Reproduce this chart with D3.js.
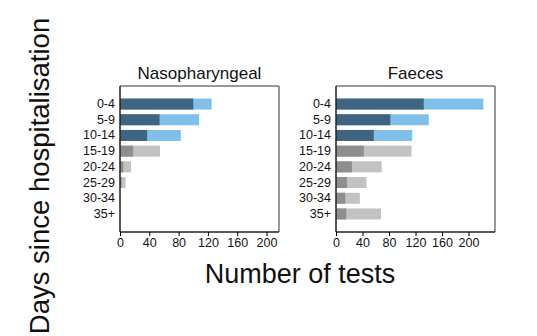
<!DOCTYPE html>
<html>
<head>
<meta charset="utf-8">
<script src="https://cdn.jsdelivr.net/npm/d3@7"></script>
<style>
  body { margin: 0; background: #fff; }
  svg { display: block; font-family: "Liberation Sans", Arial, sans-serif; }
</style>
</head>
<body>
<div id="chart"></div>
<script>
// Days since hospitalisation
const categories = ['0-4', '5-9', '10-14', '15-19', '20-24', '25-29', '30-34', '35+'];
const blueRows = ['0-4', '5-9', '10-14'];
const xTicks = [0, 40, 80, 120, 160, 200];

// Nasopharyngeal: positive tests and total tests
const nasoPositive = [100, 54, 37, 18, 4.5, 2, 0, 0];
const nasoTotal = [125, 108, 83, 54.5, 15, 7.5, 0, 0];

// Faeces: positive tests and total tests
const faecesPositive = [132.5, 82, 57, 42, 24, 16.5, 14, 15.5];
const faecesTotal = [222.5, 140, 115, 114, 69, 46, 36, 68];

const width = 537, height = 336;
const svg = d3.select('#chart').append('svg')
  .attr('width', width)
  .attr('height', height);

const colors = {
  darkBlue: '#3e6482', lightBlue: '#80bfea',
  darkGray: '#8e8e8e', lightGray: '#c2c2c2'
};

function drawPanel(left, title, positive, total, xmax) {
  const top = 86, bottom = 232, w = 159;

  const x = d3.scaleLinear().domain([0, xmax]).range([left, left + w]);
  const y = d3.scaleBand().domain(categories).range([top, bottom])
    .paddingInner(0.3).paddingOuter(0.8);

  const g = svg.append('g');

  const rows = categories.map((c, i) => ({ cat: c, pos: positive[i], tot: total[i] }));

  // totals first, positives on top
  g.selectAll('rect.tot').data(rows).enter().append('rect')
    .attr('class', 'tot')
    .attr('x', x(0))
    .attr('y', d => y(d.cat))
    .attr('width', d => x(d.tot) - x(0))
    .attr('height', y.bandwidth())
    .attr('fill', d => blueRows.includes(d.cat) ? colors.lightBlue : colors.lightGray);

  g.selectAll('rect.pos').data(rows).enter().append('rect')
    .attr('class', 'pos')
    .attr('x', x(0))
    .attr('y', d => y(d.cat))
    .attr('width', d => x(d.pos) - x(0))
    .attr('height', y.bandwidth())
    .attr('fill', d => blueRows.includes(d.cat) ? colors.darkBlue : colors.darkGray);

  // frame: grey top/right, black left/bottom
  g.append('line').attr('x1', left).attr('x2', left + w).attr('y1', top).attr('y2', top)
    .attr('stroke', '#777').attr('stroke-width', 1.5);
  g.append('line').attr('x1', left + w).attr('x2', left + w).attr('y1', top).attr('y2', bottom)
    .attr('stroke', '#777').attr('stroke-width', 1.5);

  const xAxis = g.append('g')
    .attr('transform', 'translate(0,' + bottom + ')')
    .call(d3.axisBottom(x).tickValues(xTicks).tickSize(4).tickPadding(2).tickSizeOuter(0));
  xAxis.select('.domain').attr('stroke', '#222').attr('stroke-width', 1.5)
    .attr('d', 'M' + left + ',0H' + (left + w));
  xAxis.selectAll('text')
    .style('font-size', '12.5px')
    .style('font-family', '"Liberation Sans", Arial, sans-serif')
    .attr('fill', '#111');

  const yAxis = g.append('g')
    .attr('transform', 'translate(' + left + ',0)')
    .call(d3.axisLeft(y).tickSize(0).tickPadding(5));
  yAxis.select('.domain').attr('stroke', '#222').attr('stroke-width', 1.5)
    .attr('d', 'M0,' + top + 'V' + bottom);
  yAxis.selectAll('text')
    .style('font-size', '12.5px')
    .style('font-family', '"Liberation Sans", Arial, sans-serif')
    .attr('fill', '#111');

  g.append('text')
    .text(title)
    .attr('x', left + w / 2)
    .attr('y', 79)
    .attr('text-anchor', 'middle')
    .attr('font-size', 17)
    .attr('fill', '#111');
}

drawPanel(120, 'Nasopharyngeal', nasoPositive, nasoTotal, 217);
drawPanel(336, 'Faeces', faecesPositive, faecesTotal, 240);

// axis titles
svg.append('text')
  .text('Number of tests')
  .attr('x', 300)
  .attr('y', 283)
  .attr('text-anchor', 'middle')
  .attr('font-size', 27)
  .attr('fill', '#111');

svg.append('text')
  .text('Days since hospitalisation')
  .attr('transform', 'translate(49,176) rotate(-90)')
  .attr('text-anchor', 'middle')
  .attr('font-size', 27.5)
  .attr('fill', '#111');
</script>
</body>
</html>
